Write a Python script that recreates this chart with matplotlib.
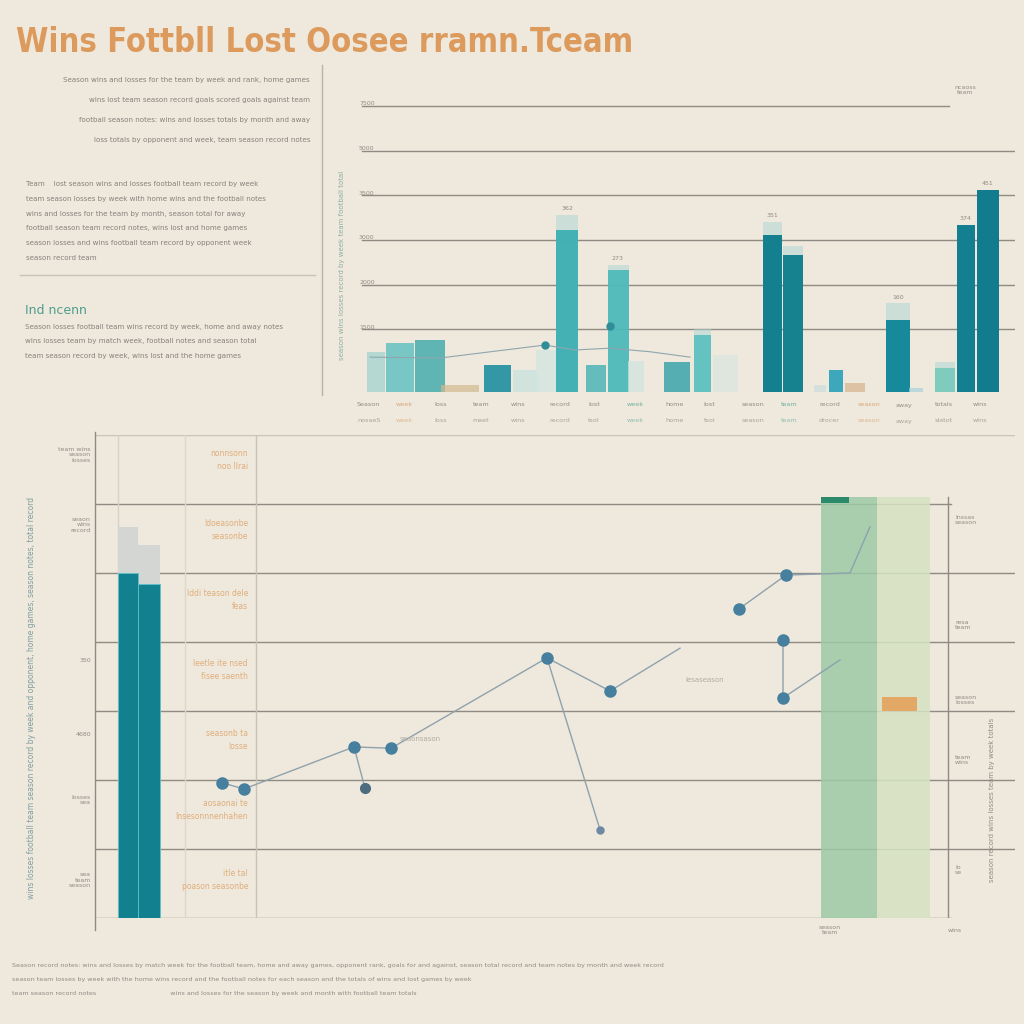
import matplotlib.pyplot as plt
from matplotlib.lines import Line2D

plt.rcParams['font.family'] = ['DejaVu Sans']

BG = '#efe8dc'
GRID = '#8e8a84'
GREY = '#8f8c86'
ORANGE = '#dfae7c'
TEAL_D = '#13808f'

# ---- data: top chart (season bars) ----
top_x = [37.6, 40.0, 43.0, 46.0, 49.7, 52.5, 54.6, 56.7, 59.6, 61.8, 63.6, 67.7, 70.3, 72.5,
         77.2, 79.3, 82.0, 83.6, 85.5, 89.8, 91.6, 94.5, 96.6, 98.8]
top_w = [1.8, 2.8, 3.0, 3.8, 2.7, 2.5, 2.0, 2.2, 2.0, 2.1, 1.6, 2.6, 1.7, 2.5,
         1.9, 2.0, 1.2, 1.4, 2.0, 2.4, 1.4, 2.0, 1.8, 2.2]
top_h = [0.89, 1.10, 1.16, 0.16, 0.60, 0.50, 0.94, 3.62, 0.60, 2.73, 0.70, 0.67, 1.27, 0.83,
         3.51, 3.06, 0.15, 0.49, 0.20, 1.60, 0.10, 0.54, 3.74, 4.52]
top_cap = [0, 0, 0, 0, 0, 0, 0, 0.34, 0, 0.12, 0, 0, 0.15, 0,
           0.30, 0.20, 0, 0, 0, 0.38, 0, 0.12, 0, 0]
top_col = ['#8fd0cc', '#5bbfbf', '#3aa9a9', '#d2b98e', '#1f8ea0', '#c4e2de', '#d0e6e2', '#3db0b3',
           '#43b1b4', '#48b8b8', '#cfe5e1', '#2ea0a8', '#52bdbd', '#d8e6e0',
           '#147f8f', '#16828f', '#c8dedb', '#2aa0b8', '#d6b48c', '#168a9a', '#a9d2dc', '#6cc8b8',
           '#137f90', '#127c8e']
top_alpha = [0.6, 0.8, 0.8, 0.7, 0.9, 0.7, 0.7, 0.95, 0.8, 0.9, 0.7, 0.8, 0.85, 0.7,
             1, 1, 0.7, 0.9, 0.7, 1, 0.7, 0.8, 1, 1]
top_line_x = [37.0, 44.0, 50.5, 54.5, 57.5, 61.0, 65.0, 69.0]
top_line_y = [0.78, 0.76, 0.94, 1.05, 0.94, 0.98, 0.90, 0.78]
top_grid = [1.4, 2.4, 3.4, 4.4, 5.4, 6.4]
top_grid_lab = ['1500', '2000', '3000', '3500', '5000', '7500']
top_val_lab = {7: '362', 9: '273', 14: '351', 19: '160', 22: '374', 23: '451'}

# ---- data: bottom chart (wins line) ----
main_x = [12.7, 14.9, 25.9, 29.6, 45.2, 51.5, 58.5]
main_y = [1.96, 1.87, 2.48, 2.46, 3.77, 3.29, 3.91]
branch1_x = [25.9, 27.0]
branch1_y = [2.48, 1.88]
branch2_x = [45.2, 50.5]
branch2_y = [3.77, 1.28]
right_x = [64.4, 69.1, 75.5, 77.5]
right_y = [4.48, 4.97, 5.00, 5.67]
right2_x = [68.8, 68.8, 74.5]
right2_y = [4.03, 3.19, 3.74]
left_bar_x = [2.3, 4.3]
left_bar_w = [2.0, 2.2]
left_bar_h = [5.00, 4.84]
left_bar_cap = [0.67, 0.56]
band_x = [72.6, 78.2]
band_w = [5.6, 5.3]
band_h = [6.1, 6.1]
band_col = ['#9ccaa6', '#d6e2c2']
bot_grid = [0, 1, 2, 3, 4, 5, 6]
row_notes = ['nonnsonn\nnoo Ilrai', 'ldoeasonbe\nseasonbe', 'lddi teason dele\nfeas',
             'Ieetle ite nsed\nfisee saenth', 'seasonb ta\nlosse', 'aosaonai te\nlnsesonnnenhahen',
             'itle tal\npoason seasonbe']

fig = plt.figure(figsize=(10.24, 10.24), dpi=100, facecolor=BG)


def fx(px):
    return px / 1024


def fy(py):
    return 1 - py / 1024


def ftext(px, py, s, **kw):
    return fig.text(fx(px), fy(py), s, **kw)


def fline(x0, y0, x1, y1, **kw):
    fig.add_artist(Line2D([fx(x0), fx(x1)], [fy(y0), fy(y1)], transform=fig.transFigure, **kw))


# title
ftext(16, 43, 'Wins Fottbll Lost Oosee rramn.Tceam', fontsize=23.5, color='#dc9a5d',
      fontweight='bold', fontstretch='condensed', va='center', ha='left')

# left text block
small = dict(fontsize=5.1, color='#85827c', va='center')
para1 = ['Season wins and losses for the team by week and rank, home games',
         'wins lost team season record goals scored goals against team',
         'football season notes: wins and losses totals by month and away',
         'loss totals by opponent and week, team season record notes']
for i, s in enumerate(para1):
    ftext(310, 80 + i * 20, s, ha='right', **small)
para2 = ['Team    lost season wins and losses football team record by week',
         'team season losses by week with home wins and the football notes',
         'wins and losses for the team by month, season total for away',
         'football season team record notes, wins lost and home games',
         'season losses and wins football team record by opponent week',
         'season record team']
for i, s in enumerate(para2):
    ftext(26, 184 + i * 14.8, s, ha='left', **small)
fline(20, 275, 315, 275, color='#c9c2b6', lw=1)
ftext(25, 310, 'Ind ncenn', fontsize=9, color='#4f9e8c', va='center')
para3 = ['Season losses football team wins record by week, home and away notes',
         'wins losses team by match week, football notes and season total',
         'team season record by week, wins lost and the home games']
for i, s in enumerate(para3):
    ftext(25, 327 + i * 14.5, s, ha='left', **small)
fline(322, 65, 322, 395, color='#b8b2a8', lw=1)
ftext(342, 265, 'season wins losses record by week team football total',
      rotation=90, fontsize=5, color='#8fb0a4', ha='center', va='center')

# ---- top chart ----
ax1 = fig.add_axes([fx(355), fy(392), fx(1015 - 355), (392 - 79) / 1024])
ax1.set_facecolor('none')
ax1.set_xlim(35.5, 101.5)
ax1.set_ylim(0, 7)
ax1.axis('off')
for g, lab in zip(top_grid, top_grid_lab):
    xmax = 0.9 if g == top_grid[-1] else 1.0
    ax1.axhline(g, xmin=0.01, xmax=xmax, color=GRID, lw=1, zorder=0)
    ax1.text(35.9, g + 0.05, lab, fontsize=4.5, color=GREY, ha='left', va='center')
caps = [h + c if c else 0 for h, c in zip(top_h, top_cap)]
ax1.bar(top_x, caps, width=top_w, color='#a9d6d6', alpha=0.5, zorder=1)
for x, h, w, c, a in zip(top_x, top_h, top_w, top_col, top_alpha):
    ax1.bar(x, h, width=w, color=c, alpha=a, zorder=2)
ax1.plot(top_line_x, top_line_y, color='#8fa6b0', lw=0.8, zorder=3)
ax1.plot([54.5, 61.0], [1.05, 1.48], 'o', color='#2f8e98', ms=5, zorder=4)
for i, lab in top_val_lab.items():
    ax1.text(top_x[i], top_h[i] + top_cap[i] + 0.1, lab, fontsize=4.5, color=GREY, ha='center')
xlabs = ['Season', 'week', 'Ioss', 'team', 'wins', 'record', 'lost', 'week',
         'home', 'lost', 'season', 'team', 'record', 'season', 'away', 'totals', 'wins']
xcols = [GREY, '#d8a878', GREY, GREY, GREY, GREY, GREY, '#6fb0a0', GREY, GREY, GREY,
         '#6fb0a0', GREY, '#d8a878', GREY, GREY, GREY]
for i, (s, c) in enumerate(zip(xlabs, xcols)):
    ftext(357 + i * 38.5, 405, s, fontsize=4.6, color=c, ha='left', va='center')
    ftext(357 + i * 38.5, 421, s[::-1] if i % 3 == 0 else s, fontsize=4.6, color=c, ha='left',
          va='center', alpha=0.75)
ftext(965, 90, 'ncaoss\nteam', fontsize=4.5, color=GREY, ha='center', va='center')

# ---- bottom chart ----
ax2 = fig.add_axes([fx(95), fy(918), fx(1015 - 95), (918 - 435) / 1024])
ax2.set_facecolor('none')
ax2.set_xlim(0, 92)
ax2.set_ylim(0, 7)
ax2.axis('off')
ax2.axhline(7, color='#c9c3b8', lw=1, zorder=0)
for g in bot_grid:
    xmax = 0.93 if g in (0, 6) else 1.0
    ax2.axhline(g, xmin=0, xmax=xmax, color=GRID, lw=1, zorder=0)
fline(95, 432, 95, 930, color=GRID, lw=1)
for vx, c in [(2.3, '#d8d1c5'), (9.0, '#ddd6ca'), (16.1, '#c9c2b6')]:
    ax2.axvline(vx, color=c, lw=1, zorder=0)
ax2.plot([85.3, 85.3], [-0.1, 6.1], color=GRID, lw=1)

ax2.bar(band_x, band_h, width=band_w, color=band_col, align='edge', alpha=0.85, zorder=1)
ax2.bar([band_x[0]], [0.08], bottom=[6.02], width=[2.8], color='#2c8a6c', align='edge', zorder=2)
ax2.bar([78.7], [0.2], bottom=[3.0], width=[3.5], color='#e4a866', align='edge', zorder=2)

caps2 = [h + c for h, c in zip(left_bar_h, left_bar_cap)]
ax2.bar(left_bar_x, caps2, width=left_bar_w, color='#d3d6d3', align='edge', zorder=1)
ax2.bar(left_bar_x, left_bar_h, width=left_bar_w, color=TEAL_D, align='edge', zorder=2,
        edgecolor='#5ec3c8', lw=0.6)

lc = '#8ea2ad'
mc = '#46809e'
ax2.plot(main_x, main_y, color=lc, lw=1, zorder=3)
ax2.plot(main_x[:-1], main_y[:-1], 'o', color=mc, ms=8, zorder=4)
ax2.plot(branch1_x, branch1_y, color=lc, lw=1, zorder=3)
ax2.plot(branch1_x[1:], branch1_y[1:], 'o', color='#4d6c80', ms=7, zorder=4)
ax2.plot(branch2_x, branch2_y, color=lc, lw=1, zorder=3)
ax2.plot(branch2_x[1:], branch2_y[1:], 'o', color='#6d88a4', ms=5, zorder=4)
ax2.plot(right_x, right_y, color=lc, lw=1, zorder=3)
ax2.plot(right_x[:2], right_y[:2], 'o', color=mc, ms=8, zorder=4)
ax2.plot(right2_x, right2_y, color=lc, lw=1, zorder=3)
ax2.plot(right2_x[:2], right2_y[:2], 'o', color=mc, ms=8, zorder=4)
ax2.text(59.0, 3.45, 'lesaseason', fontsize=5, color='#b0aca4', va='center')
ax2.text(30.5, 2.6, 'seaonsason', fontsize=5, color='#b0aca4', va='center')

for i, note in enumerate(row_notes):
    ftext(248, 460 + i * 70, note, fontsize=5.5, color=ORANGE, ha='right', va='center',
          linespacing=1.5)
for py, s in [(455, 'team wins\nseason\nlosses'), (525, 'seaon\nwins\nrecord'), (660, '350'),
              (735, '4680'), (800, 'losses\nsea'), (880, 'sea\nteam\nseason')]:
    ftext(91, py, s, fontsize=4.5, color=GREY, ha='right', va='center')
ftext(32, 698, 'wins losses football team season record by week and opponent, home games, '
      'season notes, total record',
      rotation=90, fontsize=5.5, color='#7f9fa0', ha='center', va='center')
ftext(992, 800, 'season record wins losses team by week totals',
      rotation=90, fontsize=5, color=GREY, ha='center', va='center')
for py, s in [(520, 'lnssas\nseason'), (625, 'resa\nteam'), (700, 'season\nlosses'),
              (760, 'team\nwins'), (870, 'lo\nse')]:
    ftext(955, py, s, fontsize=4.5, color=GREY, ha='left', va='center')
ftext(830, 930, 'season\nteam', fontsize=4.5, color=GREY, ha='center', va='center')
ftext(955, 930, 'wins', fontsize=4.5, color=GREY, ha='center', va='center')

# footer
foot = ['Season record notes: wins and losses by match week for the football team, home and away games, '
        'opponent rank, goals for and against, season total record and team notes by month and week record',
        'season team losses by week with the home wins record and the football notes for each season and '
        'the totals of wins and lost games by week',
        'team season record notes                                     wins and losses for the season by '
        'week and month with football team totals']
for i, s in enumerate(foot):
    ftext(12, 966 + i * 14, s, fontsize=4.6, color=GREY, ha='left', va='center')

fig.savefig('out.png', dpi=100, facecolor=BG)
